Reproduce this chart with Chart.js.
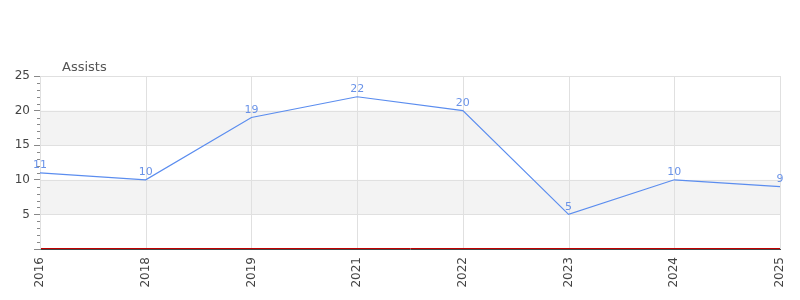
<!DOCTYPE html>
<html><head><meta charset="utf-8">
<script src="https://cdn.jsdelivr.net/npm/chart.js@4/dist/chart.umd.min.js"></script>
<style>html,body{margin:0;padding:0;background:#fff}#wrap{width:800px;height:300px}</style>
</head><body><div id="wrap"><canvas id="c" width="800" height="300"></canvas></div>
<script>
const categories = ['2016','2018','2019','2021','2022','2023','2024','2025'];
const assists = [11,10,19,22,20,5,10,9];
const titleText = 'Assists';
const bands = [[5,10],[15,20]];
const FONT = '"DejaVu Sans", Verdana, sans-serif';

const extras = {
  id: 'extras',
  beforeDatasetsDraw(chart) {
    const {ctx, chartArea: a, scales: {y}} = chart;
    ctx.save();
    ctx.fillStyle = '#f3f3f3';
    bands.forEach(([lo, hi]) => {
      const y1 = y.getPixelForValue(hi), y2 = y.getPixelForValue(lo);
      ctx.fillRect(a.left, y1, a.right - a.left, y2 - y1);
    });
    ctx.strokeStyle = '#e0e0e0'; ctx.lineWidth = 1;
    [5,10,15,20,25].forEach(v => {
      const py = Math.round(y.getPixelForValue(v)) + 0.5;
      ctx.beginPath(); ctx.moveTo(a.left, py); ctx.lineTo(a.right, py); ctx.stroke();
    });
    const x = chart.scales.x;
    categories.forEach((c, i) => {
      const px = Math.round(x.getPixelForValue(i)) + 0.5;
      ctx.beginPath(); ctx.moveTo(px, a.top); ctx.lineTo(px, a.bottom); ctx.stroke();
    });
    ctx.strokeStyle = '#888';
    for (let v = 1; v < 25; v++) {
      if (v % 5 === 0) continue;
      const py = Math.round(y.getPixelForValue(v)) + 0.5;
      ctx.beginPath(); ctx.moveTo(a.left - 3, py); ctx.lineTo(a.left, py); ctx.stroke();
    }
    ctx.fillStyle = '#555'; ctx.font = '13px ' + FONT;
    ctx.textBaseline = 'alphabetic'; ctx.textAlign = 'left';
    ctx.fillText(titleText, 62, 71);
    ctx.restore();
  },
  afterDatasetsDraw(chart) {
    const {ctx, chartArea: a, scales: {x, y}} = chart;
    ctx.save();
    ctx.strokeStyle = '#c00000'; ctx.lineWidth = 1;
    const py = Math.round(y.getPixelForValue(0)) - 0.5;
    ctx.beginPath(); ctx.moveTo(a.left + 1, py); ctx.lineTo(a.right, py); ctx.stroke();
    ctx.fillStyle = '#6a93e8'; ctx.font = '11px ' + FONT;
    ctx.textAlign = 'center'; ctx.textBaseline = 'bottom';
    const meta = chart.getDatasetMeta(0);
    meta.data.forEach((pt, i) => {
      ctx.fillText(String(assists[i]), pt.x, pt.y - 2);
    });
    ctx.restore();
  }
};

new Chart(document.getElementById('c'), {
  type: 'line',
  data: { labels: categories, datasets: [{
    data: assists, borderColor: '#5b8def', borderWidth: 1.2,
    pointRadius: 0, tension: 0, fill: false
  }]},
  options: {
    responsive: false, animation: false,
    layout: { padding: { top: 76, right: 20, left: 0, bottom: 0 } },
    plugins: { legend: { display: false }, tooltip: { enabled: false } },
    scales: {
      x: {
        offset: false,
        grid: { display: false, drawTicks: false },
        border: { color: '#444', width: 1 },
        ticks: { color: '#444', font: { family: FONT, size: 12 }, minRotation: 90, maxRotation: 90, padding: 8, autoSkip: false },
        afterFit(s) { s.height = 51; s.paddingLeft = 0; s.paddingRight = 0; }
      },
      y: {
        min: 0, max: 25,
        grid: { display: true, drawOnChartArea: false, tickLength: 6, tickColor: '#888' },
        border: { color: '#888', width: 1 },
        ticks: { stepSize: 5, color: '#444', font: { family: FONT, size: 12 }, padding: 4,
          callback: v => v === 0 ? '' : v },
        afterFit(s) { s.width = 40; s.paddingTop = 0; s.paddingBottom = 0; }
      }
    }
  },
  plugins: [extras]
});
</script></body></html>
